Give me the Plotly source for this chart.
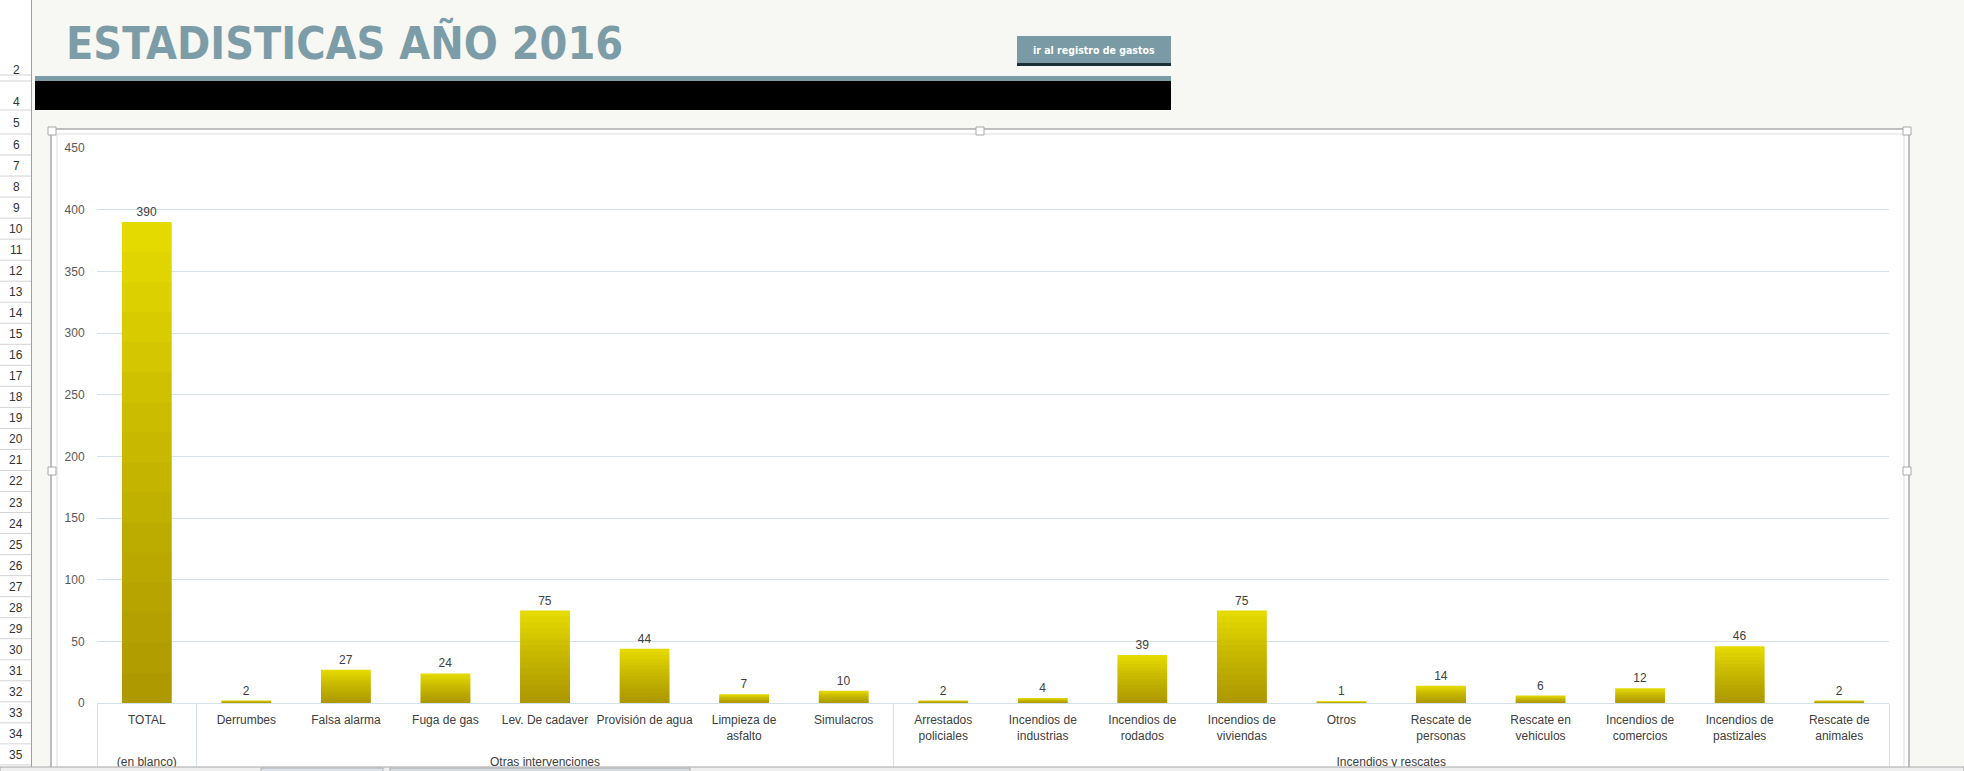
import plotly.graph_objects as go

# ---------------- data ----------------
groups = ["(en blanco)"] + ["Otras intervenciones"] * 7 + ["Incendios y rescates"] * 10
categories = [
    "TOTAL", "Derrumbes", "Falsa alarma", "Fuga de gas", "Lev. De cadaver",
    "Provisión de agua", "Limpieza de<br>asfalto", "Simulacros",
    "Arrestados<br>policiales", "Incendios de<br>industrias", "Incendios de<br>rodados",
    "Incendios de<br>viviendas", "Otros", "Rescate de<br>personas", "Rescate en<br>vehiculos",
    "Incendios de<br>comercios", "Incendios de<br>pastizales", "Rescate de<br>animales",
]
values = [390, 2, 27, 24, 75, 44, 7, 10, 2, 4, 39, 75, 1, 14, 6, 12, 46, 2]
y_ticks = [0, 50, 100, 150, 200, 250, 300, 350, 400, 450]
title_text = "ESTADISTICAS AÑO 2016"
button_text = "ir al registro de gastos"
row_labels = ["2", "4", "5"] + [str(k) for k in range(6, 36)]

# labels padded with an empty line so the group row sits lower
x_labels = [c + "<br>\u00a0" for c in categories]

# ---------------- geometry helpers (pixel -> paper) ----------------
W, H = 1964, 771
L, R, T, B = 97, 1889, 148, 703


def X(x):
    return (x - L) / (R - L)


def Y(y):
    return (B - y) / (B - T)


fig = go.Figure()

# gradient bars: base bar + stacked translucent overlays
fig.add_trace(go.Bar(
    x=[groups, x_labels], y=values,
    marker=dict(color="#EADF00", line=dict(width=0)),
    text=[str(v) for v in values], textposition="outside",
    textfont=dict(size=12, color="#404040", family="Liberation Sans"),
    cliponaxis=False, hoverinfo="skip", showlegend=False,
))
N = 16
for i in range(1, N + 1):
    fig.add_trace(go.Bar(
        x=[groups, x_labels], y=[v * i / N for v in values],
        marker=dict(color="rgba(90,75,0,0.03)", line=dict(width=0)),
        hoverinfo="skip", showlegend=False,
    ))

shapes = []
annotations = []


def rect(x0, y0, x1, y1, fill, line_color=None, lw=0, layer="below"):
    shapes.append(dict(type="rect", xref="paper", yref="paper",
                       x0=X(x0), x1=X(x1), y0=Y(y0), y1=Y(y1),
                       fillcolor=fill, layer=layer,
                       line=dict(color=line_color or fill, width=lw)))


def hline(x0, x1, y, color, lw=1, layer="below"):
    shapes.append(dict(type="line", xref="paper", yref="paper",
                       x0=X(x0), x1=X(x1), y0=Y(y), y1=Y(y),
                       layer=layer, line=dict(color=color, width=lw)))


def vline(x, y0, y1, color, lw=1, layer="below"):
    shapes.append(dict(type="line", xref="paper", yref="paper",
                       x0=X(x), x1=X(x), y0=Y(y0), y1=Y(y1),
                       layer=layer, line=dict(color=color, width=lw)))


# chart frame (white area)
rect(51, 129, 1909, 800, "#FFFFFF", "#BEBEBE", 2)
rect(57, 134, 1904, 800, "#FFFFFF", "#DCDCDC", 1)
# selection handles
for hx, hy in [(52, 131), (980, 131), (1907, 131), (52, 471), (1907, 471)]:
    rect(hx - 4, hy - 4, hx + 4, hy + 4, "#FFFFFF", "#A8A8A8", 1, layer="above")

# header band
rect(35, 76, 1171, 81, "#7C9CA6")
rect(35, 81, 1171, 110, "#000000")
# button
rect(1017, 36, 1171, 63, "#7A9BA5")
rect(1017, 63, 1171, 66, "#1E2F36")

# row header column
rect(0, 0, 31, 771, "#FFFFFF")
vline(31.5, 0, 771, "#A0A0A0")
row_lines = [75, 81, 110, 134] + [134 + 21.03 * j for j in range(1, 31)]
for yl in row_lines:
    hline(0, 31, yl, "#D4D4D4")
row_centers = [70, 102, 123] + [145 + (k - 6) * 21.03 for k in range(6, 36)]
for lab, yc in zip(row_labels, row_centers):
    annotations.append(dict(xref="paper", yref="paper", x=X(16), y=Y(yc),
                            text=lab, showarrow=False, xanchor="center", yanchor="middle",
                            font=dict(size=12, color="#333333", family="Liberation Sans")))

# bottom strip (sheet tabs area)
rect(0, 767, 1964, 775, "#EFEFEF", "#A8A8A8", 1, layer="above")
rect(261, 768, 383, 775, "#DCE2E7", "#B0B0B0", 1, layer="above")
rect(390, 768, 690, 775, "#D4D9DD", "#B0B0B0", 1, layer="above")

# title & button text
annotations.append(dict(xref="paper", yref="paper", x=X(64), y=Y(43),
                        text="<b>" + title_text + "</b>", showarrow=False,
                        xanchor="left", yanchor="middle",
                        font=dict(size=44.5, color="#7C9DA7", family="DejaVu Sans Condensed")))
annotations.append(dict(xref="paper", yref="paper", x=X(1094), y=Y(49.5),
                        text="<b>" + button_text + "</b>", showarrow=False,
                        xanchor="center", yanchor="middle",
                        font=dict(size=10.5, color="#FFFFFF", family="DejaVu Sans Condensed")))

fig.update_layout(
    width=W, height=H,
    margin=dict(l=L, r=W - R, t=T, b=H - B, pad=0),
    paper_bgcolor="#F7F7F3",
    plot_bgcolor="rgba(0,0,0,0)",
    barmode="overlay",
    bargap=0.5,
    font=dict(family="Liberation Sans", size=12, color="#404040"),
    shapes=shapes,
    annotations=annotations,
    showlegend=False,
)
fig.update_yaxes(
    range=[0, 450], tickvals=y_ticks, showgrid=True, gridcolor="#D5E1E9", gridwidth=1,
    zeroline=False, showline=False, ticks="outside", ticklen=9, tickcolor="rgba(0,0,0,0)",
    tickfont=dict(size=12, color="#595959"), automargin=False, fixedrange=True,
)
fig.update_xaxes(
    type="multicategory", tickangle=0, showgrid=False, showline=True, linecolor="#D5E1E9",
    linewidth=1, showdividers=True, dividercolor="#D5E1E9", dividerwidth=1,
    ticklabelstandoff=6,
    tickfont=dict(size=12, color="#404040"), automargin=False, fixedrange=True,
)

fig.write_html("out.html", config={"displayModeBar": False},
               post_script="document.body.style.margin='0';document.body.style.overflow='hidden';")
